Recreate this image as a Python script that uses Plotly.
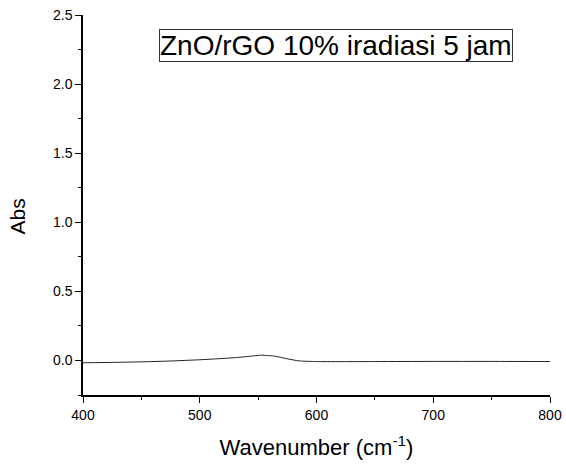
import plotly.graph_objects as go

# Absorbance spectrum of ZnO/rGO 10% after 5 h irradiation
wavenumber = [400, 425, 450, 475, 500, 517, 530, 545, 553, 565, 575, 585, 600, 650, 700, 750, 800]
absorbance = [-0.017, -0.014, -0.010, -0.004, 0.005, 0.013, 0.020, 0.032, 0.038, 0.030,
              0.012, -0.003, -0.008, -0.008, -0.007, -0.007, -0.008]

x_ticks = [400, 500, 600, 700, 800]
y_ticks = [0.0, 0.5, 1.0, 1.5, 2.0, 2.5]
y_tick_text = ["0.0", "0.5", "1.0", "1.5", "2.0", "2.5"]

FONT = "Liberation Sans, Arial, sans-serif"

fig = go.Figure()
fig.add_trace(go.Scatter(
    x=wavenumber, y=absorbance, mode="lines",
    line=dict(color="#222222", width=1, shape="spline", smoothing=0.6),
    showlegend=False,
))

axis_common = dict(
    showline=True, linecolor="black", linewidth=1.5,
    ticks="outside", ticklen=6, tickwidth=1.3, tickcolor="black",
    showgrid=False, zeroline=False, mirror=False, automargin=False,
    tickfont=dict(family=FONT, size=14, color="black"),
)

fig.update_xaxes(
    range=[400, 800], tickvals=x_ticks,
    minor=dict(ticks="outside", ticklen=3, tickwidth=1.3, tickcolor="black", dtick=50, tick0=400),
    title=dict(text="Wavenumber (cm<sup>-1</sup>)", font=dict(family=FONT, size=22, color="black"),
               standoff=18),
    **axis_common,
)
fig.update_yaxes(
    range=[-0.25, 2.5], tickvals=y_ticks, ticktext=y_tick_text,
    minor=dict(ticks="outside", ticklen=3, tickwidth=1.3, tickcolor="black", dtick=0.25, tick0=0),
    **axis_common,
)

# y-axis label, placed slightly below the plot's vertical centre
fig.add_annotation(
    text="Abs", xref="paper", yref="paper", x=-0.1403, y=0.471,
    xanchor="center", yanchor="middle", textangle=-90, showarrow=False,
    font=dict(family=FONT, size=21, color="black"),
)

fig.add_annotation(
    text="ZnO/rGO 10% iradiasi 5 jam", xref="paper", yref="paper",
    x=0.5407, y=0.919, xanchor="center", yanchor="middle", showarrow=False,
    font=dict(family=FONT, size=28, color="black"),
    bordercolor="#333333", borderwidth=1, borderpad=0, bgcolor="white",
)

fig.update_layout(
    width=566, height=464,
    margin=dict(l=83, r=16, t=15, b=69),
    paper_bgcolor="white", plot_bgcolor="white",
)

fig.write_html("out.html")
